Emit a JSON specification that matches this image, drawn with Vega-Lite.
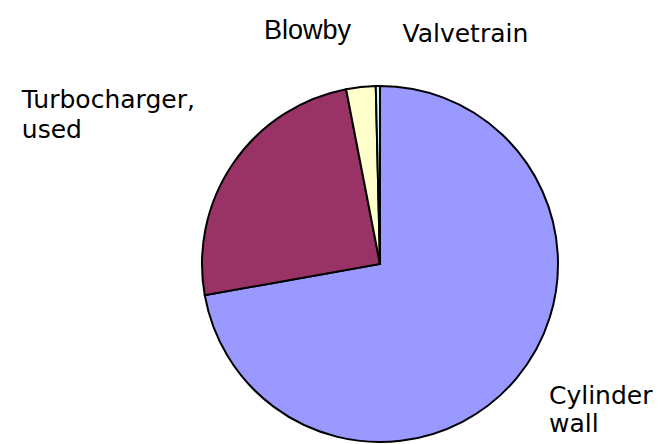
{
  "$schema": "https://vega.github.io/schema/vega-lite/v6.json",
  "width": 360,
  "height": 360,
  "autosize": {"type": "none"},
  "padding": {"left": 200, "top": 84, "right": 106, "bottom": 0},
  "background": "white",
  "view": {"stroke": null},
  "data": {
    "values": [
      {"label": "Cylinder wall", "text": "Cylinder\nwall", "value": 72.2},
      {"label": "Turbocharger, used", "text": "Turbocharger,\nused", "value": 24.75},
      {"label": "Blowby", "text": "Blowby", "value": 2.67},
      {"label": "Valvetrain", "text": "Valvetrain", "value": 0.38}
    ]
  },
  "encoding": {
    "theta": {"field": "value", "type": "quantitative", "stack": true},
    "order": {"field": "value", "type": "quantitative", "sort": "descending"}
  },
  "layer": [
    {
      "mark": {"type": "arc", "radius": 178, "stroke": "black", "strokeWidth": 2, "strokeJoin": "miter"},
      "encoding": {
        "color": {
          "field": "label",
          "type": "nominal",
          "scale": {
            "domain": ["Cylinder wall", "Turbocharger, used", "Blowby", "Valvetrain"],
            "range": ["#9999FF", "#993366", "#FFFFCC", "#CCFFFF"]
          },
          "legend": null
        }
      }
    },
    {
      "mark": {"type": "text", "radius": 210, "align": "left", "baseline": "alphabetic", "dx": 8, "dy": 5, "font": "DejaVu Sans", "fontSize": 25, "lineHeight": 28, "lineBreak": "\n", "fill": "black"},
      "encoding": {
        "detail": {"field": "label", "type": "nominal"},
        "text": {"condition": {"test": "datum.label === 'Cylinder wall'", "field": "text"}, "value": ""}
      }
    },
    {
      "mark": {"type": "text", "radius": 210, "align": "left", "baseline": "alphabetic", "dx": -185, "dy": -37, "font": "DejaVu Sans", "fontSize": 25, "lineHeight": 30, "lineBreak": "\n", "fill": "black"},
      "encoding": {
        "detail": {"field": "label", "type": "nominal"},
        "text": {"condition": {"test": "datum.label === 'Turbocharger, used'", "field": "text"}, "value": ""}
      }
    },
    {
      "mark": {"type": "text", "radius": 210, "align": "center", "baseline": "alphabetic", "dx": -50, "dy": -16, "font": "Liberation Sans", "fontSize": 27, "fill": "black"},
      "encoding": {
        "detail": {"field": "label", "type": "nominal"},
        "text": {"condition": {"test": "datum.label === 'Blowby'", "field": "text"}, "value": ""}
      }
    },
    {
      "mark": {"type": "text", "radius": 210, "align": "left", "baseline": "alphabetic", "dx": 25, "dy": -12, "font": "DejaVu Sans", "fontSize": 25, "fill": "black"},
      "encoding": {
        "detail": {"field": "label", "type": "nominal"},
        "text": {"condition": {"test": "datum.label === 'Valvetrain'", "field": "text"}, "value": ""}
      }
    }
  ]
}
